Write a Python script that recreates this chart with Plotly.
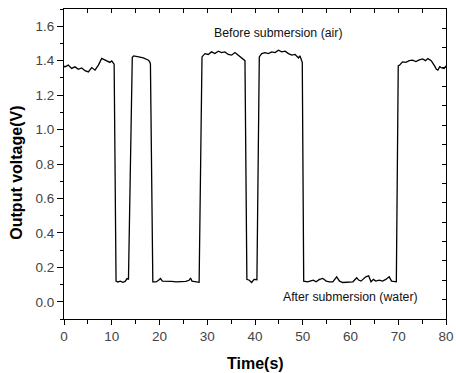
import plotly.graph_objects as go

# ---- data ----
time_s = [
    0.0, 0.2, 0.9, 1.6, 2.3, 3.0, 3.7, 4.4, 5.1, 5.8, 6.5, 7.2, 7.9, 8.6, 9.3, 9.6, 10.0, 10.3, 10.5,
    10.9, 11.3, 11.8, 12.3, 12.8, 13.2, 13.5,
    14.3, 14.6, 15.2, 15.9, 16.6, 17.2, 17.7, 18.0, 18.1,
    18.6, 19.3, 19.8, 20.2, 20.6, 21.5, 22.5, 23.5, 24.5, 25.5, 26.2, 26.5, 26.8, 27.5, 28.3,
    28.9, 29.5, 30.2, 30.9, 31.6, 32.3, 33.0, 33.7, 34.4, 35.1, 35.8, 36.5, 37.2, 37.9,
    38.3, 38.8, 39.3, 39.8, 40.4,
    40.9, 41.4, 42.1, 42.8, 43.5, 44.2, 44.9, 45.6, 46.3, 47.0, 47.7, 48.4, 49.1, 49.4, 49.9,
    50.2, 51.0, 51.7, 52.2, 52.8, 53.5, 54.2, 54.9, 55.6, 56.3, 57.1, 57.7, 58.4, 59.1, 59.8,
    60.5, 61.3, 61.7, 62.2, 62.7, 63.2, 63.8, 64.3, 64.8, 65.3, 66.0, 66.7, 67.4, 68.1, 68.6,
    69.2, 69.6,
    70.0, 70.3, 70.9, 71.6, 72.3, 73.0, 73.7, 74.4, 75.1, 75.7, 76.2, 76.9, 77.6, 78.0, 78.3,
    78.7, 79.0, 79.6, 80.0,
]
voltage_v = [
    1.370, 1.364, 1.374, 1.355, 1.364, 1.350, 1.358, 1.342, 1.335, 1.360, 1.345, 1.374, 1.413,
    1.405, 1.398, 1.390, 1.398, 1.390, 1.380,
    0.120, 0.115, 0.120, 0.113, 0.118, 0.135, 0.130,
    1.420, 1.428, 1.426, 1.420, 1.416, 1.409, 1.403, 1.390, 1.380,
    0.115, 0.115, 0.125, 0.135, 0.120, 0.120, 0.118, 0.115, 0.115, 0.118, 0.125, 0.138, 0.120,
    0.115, 0.113,
    1.422, 1.441, 1.436, 1.451, 1.441, 1.455, 1.447, 1.451, 1.436, 1.432, 1.447, 1.432, 1.416,
    1.400,
    0.130, 0.125, 0.112, 0.130, 0.128,
    1.422, 1.441, 1.447, 1.441, 1.451, 1.447, 1.461, 1.451, 1.455, 1.441, 1.432, 1.436, 1.416,
    1.428, 1.390,
    0.120, 0.116, 0.122, 0.126, 0.116, 0.130, 0.136, 0.120, 0.116, 0.116, 0.145, 0.120, 0.112,
    0.112, 0.112, 0.116, 0.139, 0.126, 0.120, 0.130, 0.145, 0.151, 0.116, 0.130, 0.120, 0.126,
    0.120, 0.130, 0.145, 0.120, 0.116, 0.116,
    1.370, 1.375, 1.393, 1.390, 1.400, 1.403, 1.395, 1.405, 1.410, 1.400, 1.412, 1.400, 1.370,
    1.350, 1.345, 1.365, 1.360, 1.355, 1.370,
]

x_range = [0, 80]
y_range = [-0.1, 1.7]
x_title = "Time(s)"
y_title = "Output voltage(V)"
label_air = "Before submersion (air)"
label_water = "After submersion (water)"

FONT = "Liberation Sans, Arial, Helvetica, sans-serif"
TICK_FONT = dict(family=FONT, size=13.5, color="#444444")
TITLE_FONT = dict(family=FONT, size=16, color="black")

fig = go.Figure()
fig.add_trace(go.Scatter(
    x=time_s, y=voltage_v, mode="lines",
    line=dict(color="black", width=1.3),
    showlegend=False, hoverinfo="skip",
))

# invisible helper traces for the mirrored (inward-tick) top/right axes
fig.add_trace(go.Scatter(x=[], y=[], xaxis="x2", yaxis="y", showlegend=False))
fig.add_trace(go.Scatter(x=[], y=[], xaxis="x", yaxis="y2", showlegend=False))

fig.add_annotation(x=44.8, y=1.56, text=label_air, showarrow=False,
                   font=dict(family=FONT, size=12.3, color="#111111"))
fig.add_annotation(x=59.9, y=0.03, text=label_water, showarrow=False,
                   font=dict(family=FONT, size=12.3, color="#111111"))

# axis titles placed as in the reference
fig.add_annotation(xref="paper", yref="paper", x=0.5, y=-0.144,
                   xanchor="center", yanchor="middle",
                   text="<b>" + x_title + "</b>", showarrow=False, font=TITLE_FONT)
fig.add_annotation(xref="paper", yref="paper", x=-0.123, y=0.472,
                   xanchor="center", yanchor="middle", textangle=-90,
                   text="<b>" + y_title + "</b>", showarrow=False, font=TITLE_FONT)

fig.update_layout(
    width=456, height=373,
    margin=dict(l=64, r=10, t=9, b=54, autoexpand=False),
    paper_bgcolor="white", plot_bgcolor="white",
    xaxis=dict(
        range=x_range, dtick=10, tick0=0, automargin=False,
        ticks="outside", ticklen=5, tickwidth=1, tickcolor="black",
        minor=dict(dtick=5, ticks="outside", ticklen=4, tickcolor="black"),
        showline=True, linecolor="black", linewidth=1,
        showgrid=False, zeroline=False,
        tickfont=TICK_FONT,
    ),
    xaxis2=dict(
        range=x_range, dtick=5, tick0=0, overlaying="x", side="top", automargin=False,
        ticks="inside", ticklen=4, tickcolor="black",
        showline=True, linecolor="black", linewidth=1,
        showticklabels=False, showgrid=False, zeroline=False,
    ),
    yaxis=dict(
        range=y_range, dtick=0.2, tick0=0, tickformat=".1f", automargin=False,
        ticks="outside", ticklen=6, tickwidth=1, tickcolor="black",
        minor=dict(dtick=0.1, tick0=0, ticks="outside", ticklen=3, tickcolor="black"),
        showline=True, linecolor="black", linewidth=1,
        showgrid=False, zeroline=False,
        tickfont=TICK_FONT,
    ),
    yaxis2=dict(
        range=[0, 16], dtick=1, tick0=0, overlaying="y", side="right", automargin=False,
        ticks="inside", ticklen=4, tickcolor="black",
        showline=True, linecolor="black", linewidth=1,
        showticklabels=False, showgrid=False, zeroline=False,
    ),
)

fig.write_html("out.html")
